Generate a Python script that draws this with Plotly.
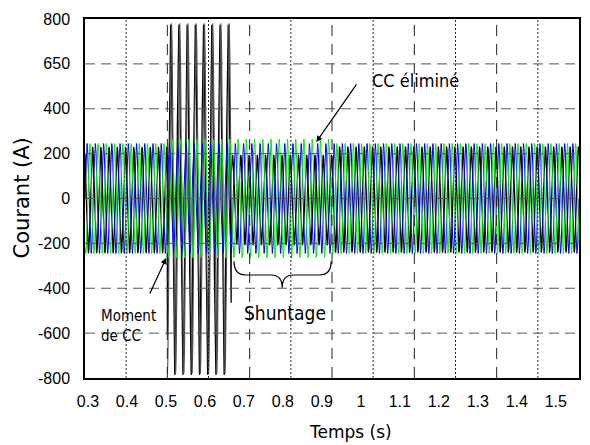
import numpy as np
import plotly.graph_objects as go

# ---- values ----
freq_hz = 50.0
t_start, t_end = 0.30, 1.50
seg_start = [0.30, 0.50, 0.655, 0.90]          # normal | fault (CC) | shunting | after
amp_black = [235, 780, 200, 235]
amp_gray = [np.nan, 780, np.nan, np.nan]
amp_blue = [245, 245, 245, 245]
amp_green = [245, 265, 265, 245]
phase_black_deg = [120, -54, 120, 120]
phase_gray_deg = [0, -90, 0, 0]
phase_blue_deg = [0, 0, 0, 0]
phase_green_deg = [-120, -120, -120, -120]
offset_black = -6

x_ticks = [0.3, 0.4, 0.5, 0.6, 0.7, 0.8, 0.9, 1.0, 1.1, 1.2, 1.3, 1.4, 1.5]
x_ticktext = ["0.3", "0.4", "0.5", "0.6", "0.7", "0.8", "0.9", "1", "1.1", "1.2", "1.3", "1.4", "1.5"]
y_ticks = [800, 600, 400, 200, 0, -200, -400, -600, -800]
y_ticktext = ["800", "650", "400", "200", "0", "-200", "-400", "-600", "-800"]
grid_dotted_x = [0.4, 0.6, 0.8, 1.0, 1.2, 1.4]
grid_dashed_x = [0.5, 0.7, 0.9, 1.1, 1.3]
grid_y = [600, 400, 200, 0, -200, -400, -600]

t = np.arange(t_start, t_end + 1e-9, 0.0002)
seg_idx = np.searchsorted(seg_start, t, side="right") - 1


def wave(amps, phases, offset=0.0):
    a = np.array(amps, dtype=float)[seg_idx]
    p = np.deg2rad(np.array(phases, dtype=float))[seg_idx]
    return a * np.sin(2 * np.pi * freq_hz * t + p) + offset


i_black = wave(amp_black, phase_black_deg, offset_black)
i_gray = wave(amp_gray, phase_gray_deg)
i_blue = wave(amp_blue, phase_blue_deg)
i_green = wave(amp_green, phase_green_deg)

fig = go.Figure()
fig.add_trace(go.Scatter(x=t, y=i_black, mode="lines", line=dict(color="#000000", width=1.3),
                         hoverinfo="skip"))
fig.add_trace(go.Scatter(x=t, y=i_gray, mode="lines", line=dict(color="#505050", width=1.1),
                         hoverinfo="skip"))
fig.add_trace(go.Scatter(x=t, y=i_blue, mode="lines", line=dict(color="#0000ff", width=1),
                         hoverinfo="skip"))
fig.add_trace(go.Scatter(x=t, y=i_green, mode="lines", line=dict(color="#00ee00", width=1),
                         hoverinfo="skip"))
# carrier for the tick-label axis (the reference's labels sit on a slightly narrower scale)
fig.add_trace(go.Scatter(x=x_ticks, y=[None] * len(x_ticks), xaxis="x2", yaxis="y",
                         mode="lines", hoverinfo="skip", showlegend=False))

shapes = []
for gx in grid_dotted_x:
    shapes.append(dict(type="line", xref="x", yref="paper", x0=gx, x1=gx, y0=0, y1=1,
                       line=dict(color="#222222", width=1, dash="2px,2px"), layer="above"))
for gx in grid_dashed_x:
    shapes.append(dict(type="line", xref="x", yref="paper", x0=gx, x1=gx, y0=0, y1=1,
                       line=dict(color="#222222", width=1, dash="11px,8px"), layer="above"))
for gy in grid_y:
    shapes.append(dict(type="line", xref="paper", yref="y", x0=0, x1=1, y0=gy, y1=gy,
                       line=dict(color="#555555", width=1, dash="10px,6px"), layer="above"))

# curly brace under the shunting period
shapes.append(dict(type="path", xref="x", yref="y",
                   path="M 0.662,-280 Q 0.662,-341 0.69,-341 L 0.752,-341 Q 0.779,-341 0.779,-398 "
                        "Q 0.779,-341 0.806,-341 L 0.87,-341 Q 0.898,-341 0.898,-280",
                   line=dict(color="#000000", width=1.2), layer="above"))

ann_font = dict(family="DejaVu Sans Condensed, DejaVu Sans", color="#000000")
annotations = [
    dict(x=0.862, y=252, ax=0.962, ay=515, xref="x", yref="y", axref="x", ayref="y",
         showarrow=True, arrowhead=2, arrowsize=1, arrowwidth=1.2, arrowcolor="#000000", text=""),
    dict(x=1.103, y=528, xref="x", yref="y", text="CC éliminé", showarrow=False,
         font=dict(size=18, **ann_font)),
    dict(x=0.497, y=-265, ax=0.456, ay=-430, xref="x", yref="y", axref="x", ayref="y",
         showarrow=True, arrowhead=2, arrowsize=1, arrowwidth=1.2, arrowcolor="#000000", text=""),
    dict(x=0.334, y=-569, xref="x", yref="y", xanchor="left", align="left",
         text="Moment<br>de CC", showarrow=False, font=dict(size=15, **ann_font)),
    dict(x=0.787, y=-510, xref="x", yref="y", text="Shuntage", showarrow=False,
         font=dict(size=19, **ann_font)),
    # axis titles
    dict(x=0.5, y=0, xref="paper", yref="paper", xshift=18, yshift=-54, yanchor="middle",
         text="Temps (s)", showarrow=False,
         font=dict(family="DejaVu Sans", size=17, color="#000000")),
    dict(x=0, y=0.5, xref="paper", yref="paper", xshift=-64, xanchor="center", yanchor="middle",
         textangle=-90, text="Courant (A)", showarrow=False,
         font=dict(family="DejaVu Sans", size=21, color="#000000")),
]

tick_font = dict(family="Liberation Sans, Arial", size=16, color="#000000")

# the page body has an 8px margin: the figure is sized so that the plot lands where the
# reference has it inside the 590x445 window
fig.update_layout(
    width=582, height=437,
    margin=dict(l=77, r=11, t=11, b=67, autoexpand=False),
    paper_bgcolor="white", plot_bgcolor="rgba(0,0,0,0)",
    showlegend=False,
    shapes=shapes,
    annotations=annotations,
    xaxis=dict(range=[t_start, t_end], domain=[0, 1], showticklabels=False, automargin=False,
               showgrid=False, zeroline=False, showline=True, mirror=True, linecolor="#000000",
               linewidth=1.5, ticks=""),
    xaxis2=dict(range=[t_start, t_end], domain=[0.006, 0.953], anchor="y", automargin=False,
                tickmode="array", tickvals=x_ticks, ticktext=x_ticktext,
                showgrid=False, zeroline=False, showline=False, ticks="",
                ticklabelstandoff=12, tickfont=tick_font),
    yaxis=dict(range=[-800, 800], tickmode="array", tickvals=y_ticks, ticktext=y_ticktext,
               automargin=False,
               showgrid=False, zeroline=False, showline=True, mirror=True, linecolor="#000000",
               linewidth=1.5, ticks="", ticklabelstandoff=10, tickfont=tick_font),
)

fig.write_html("out.html")
